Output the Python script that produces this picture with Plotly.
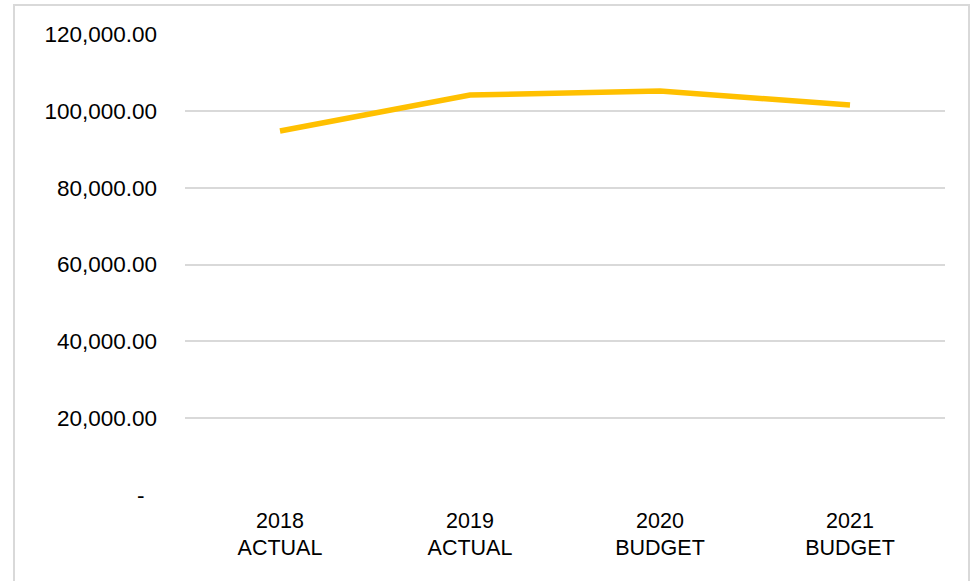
import plotly.graph_objects as go

# Categories and series values
categories = ["2018<br>ACTUAL", "2019<br>ACTUAL", "2020<br>BUDGET", "2021<br>BUDGET"]
values = [94750, 104120, 105170, 101520]

# Y-axis ticks (accounting style: zero shown as a dash)
y_tickvals = [0, 20000, 40000, 60000, 80000, 100000, 120000]
y_ticktext = ["-\u00a0\u00a0", "20,000.00", "40,000.00", "60,000.00", "80,000.00", "100,000.00", "120,000.00"]

W, H = 978, 581
L, R, T, B = 185, 33, 34, 86
pw, ph = W - L - R, H - T - B

fig = go.Figure()
fig.add_trace(go.Scatter(
    x=categories, y=values, mode="lines",
    line=dict(color="#FFC000", width=5.5),
    hoverinfo="x+y", showlegend=False,
))

def px_x(p):
    return (p - L) / pw

def px_y(p):
    return (H - B - p) / ph

# Outer chart border
fig.add_shape(type="rect", xref="paper", yref="paper",
              x0=px_x(14), x1=px_x(969), y0=px_y(588), y1=px_y(5),
              line=dict(color="#D9D9D9", width=2), fillcolor="rgba(0,0,0,0)", layer="below")

yfont = dict(family="Liberation Sans, Arial, sans-serif", size=22.5, color="#000000")
xfont = dict(family="Liberation Sans, Arial, sans-serif", size=21.5, color="#000000")

fig.update_layout(
    width=W, height=H,
    margin=dict(l=L, r=R, t=T, b=B, pad=0),
    paper_bgcolor="white", plot_bgcolor="white",
    font=yfont,
    xaxis=dict(
        type="category", showgrid=False, zeroline=False, showline=False,
        ticks="", tickfont=xfont, ticklabelstandoff=10,
        range=[-0.5, 3.5], fixedrange=True,
    ),
    yaxis=dict(
        range=[0, 120000], tickvals=y_tickvals, ticktext=y_ticktext,
        showgrid=True, gridcolor="#D9D9D9", gridwidth=1.5,
        zeroline=False, showline=False, ticks="", tickfont=yfont,
        ticklabelstandoff=27, fixedrange=True,
    ),
)

fig.write_html("out.html")
